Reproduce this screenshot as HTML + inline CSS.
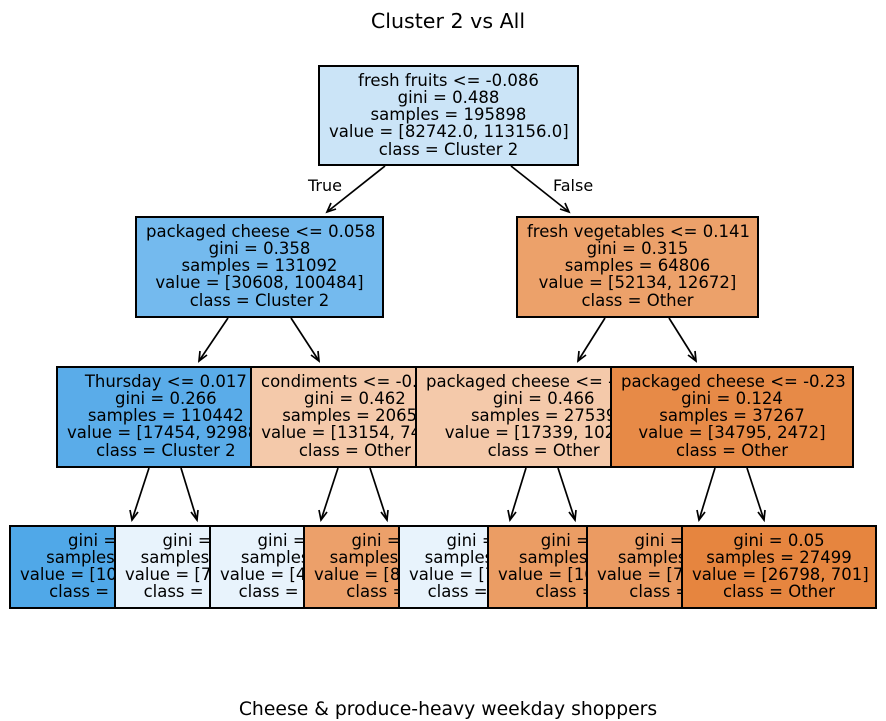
<!DOCTYPE html>
<html><head><meta charset="utf-8"><style>
html,body{margin:0;padding:0;background:#fff;}
#c{position:relative;width:886px;height:721px;overflow:hidden;font-family:"DejaVu Sans","Liberation Sans",sans-serif;color:#000;}
.b{position:absolute;box-sizing:border-box;border:2px solid #000;white-space:pre;text-align:center;font-size:16.5px;line-height:17.3px;padding:4.5px 9px 0 9px;overflow:hidden;}
.t{position:absolute;white-space:pre;}
svg{position:absolute;left:0;top:0;}
</style></head><body><div id="c">
<div class="t" style="left:0;width:896px;text-align:center;top:9px;font-size:20.6px;">Cluster 2 vs All</div>
<div class="t" style="left:0;width:896px;text-align:center;top:699px;font-size:18.8px;">Cheese &amp; produce-heavy weekday shoppers</div>
<div class="t" style="left:308px;top:176px;font-size:16px;">True</div>
<div class="t" style="left:553px;top:176px;font-size:16px;">False</div>
<svg width="886" height="721" fill="none" stroke="#000" stroke-width="1.7">
<g>
<line x1="385" y1="166" x2="327" y2="212"/><polyline points="331,203 327,212 336,209"/>
<line x1="511" y1="166" x2="569" y2="212"/><polyline points="560,209 569,212 565,203"/>
<line x1="228" y1="318" x2="199" y2="361"/><polyline points="200,351 199,361 207,355"/>
<line x1="291" y1="318" x2="319" y2="361"/><polyline points="311,355 319,361 318,351"/>
<line x1="605" y1="318" x2="578" y2="361"/><polyline points="579,351 578,361 586,355"/>
<line x1="669" y1="318" x2="696" y2="361"/><polyline points="688,355 696,361 695,351"/>
<line x1="149" y1="468" x2="132" y2="520"/><polyline points="130,510 132,520 138,512"/>
<line x1="181" y1="468" x2="197" y2="520"/><polyline points="191,512 197,520 198,510"/>
<line x1="338" y1="468" x2="321" y2="520"/><polyline points="319,510 321,520 327,512"/>
<line x1="370" y1="468" x2="387" y2="520"/><polyline points="381,512 387,520 388,510"/>
<line x1="526" y1="468" x2="510" y2="520"/><polyline points="508,510 510,520 516,512"/>
<line x1="558" y1="468" x2="575" y2="520"/><polyline points="569,512 575,520 576,510"/>
<line x1="715" y1="468" x2="699" y2="520"/><polyline points="697,510 699,520 705,512"/>
<line x1="747" y1="468" x2="764" y2="520"/><polyline points="758,512 764,520 765,510"/>
</g></svg>

<div class="b" style="left:318px;top:65px;width:261px;height:101px;background:#cbe4f7;">fresh fruits &lt;= -0.086
gini = 0.488
samples = 195898
value = [82742.0, 113156.0]
class = Cluster 2</div>
<div class="b" style="left:135px;top:216px;width:249px;height:102px;background:#74baee;">packaged cheese &lt;= 0.058
gini = 0.358
samples = 131092
value = [30608, 100484]
class = Cluster 2</div>
<div class="b" style="left:516px;top:216px;width:243px;height:102px;background:#eca16a;">fresh vegetables &lt;= 0.141
gini = 0.315
samples = 64806
value = [52134, 12672]
class = Other</div>

<div class="b" style="left:56px;top:366px;height:102px;z-index:1;background:#5aace9;">Thursday &lt;= 0.017
gini = 0.266
samples = 110442
value = [17454, 92988]
class = Cluster 2</div>
<div class="b" style="left:250px;top:366px;height:102px;z-index:2;background:#f4c9aa;">condiments &lt;= -0.041
gini = 0.462
samples = 20650
value = [13154, 7496]
class = Other</div>
<div class="b" style="left:415px;top:366px;height:102px;z-index:3;background:#f4c9aa;">packaged cheese &lt;= -0.512
gini = 0.466
samples = 27539
value = [17339, 10200]
class = Other</div>
<div class="b" style="left:610px;top:366px;width:244px;height:102px;z-index:4;background:#e78a47;">packaged cheese &lt;= -0.23
gini = 0.124
samples = 37267
value = [34795, 2472]
class = Other</div>

<div class="b" style="left:9px;top:525px;height:84px;z-index:1;background:#50a8e8;">gini = 0.196
samples = 94100
value = [10380, 83720]
class = Cluster 2</div>
<div class="b" style="left:114px;top:525px;height:84px;z-index:2;background:#e8f3fc;">gini = 0.499
samples = 16342
value = [7074, 9268]
class = Cluster 2</div>
<div class="b" style="left:209px;top:525px;height:84px;z-index:3;background:#e8f3fc;">gini = 0.498
samples = 9001
value = [4212, 4789]
class = Cluster 2</div>
<div class="b" style="left:303px;top:525px;height:84px;z-index:4;background:#eca06a;">gini = 0.367
samples = 11649
value = [8942, 2707]
class = Other</div>
<div class="b" style="left:398px;top:525px;height:84px;z-index:5;background:#e8f3fc;">gini = 0.499
samples = 14877
value = [7012, 7865]
class = Cluster 2</div>
<div class="b" style="left:487px;top:525px;height:84px;z-index:6;background:#eb9d64;">gini = 0.299
samples = 12662
value = [10327, 2335]
class = Other</div>
<div class="b" style="left:586px;top:525px;height:84px;z-index:7;background:#eb9b62;">gini = 0.279
samples = 9768
value = [7997, 1771]
class = Other</div>
<div class="b" style="left:681px;top:525px;width:196px;height:84px;z-index:8;background:#e6853f;">gini = 0.05
samples = 27499
value = [26798, 701]
class = Other</div>
</div></body></html>
